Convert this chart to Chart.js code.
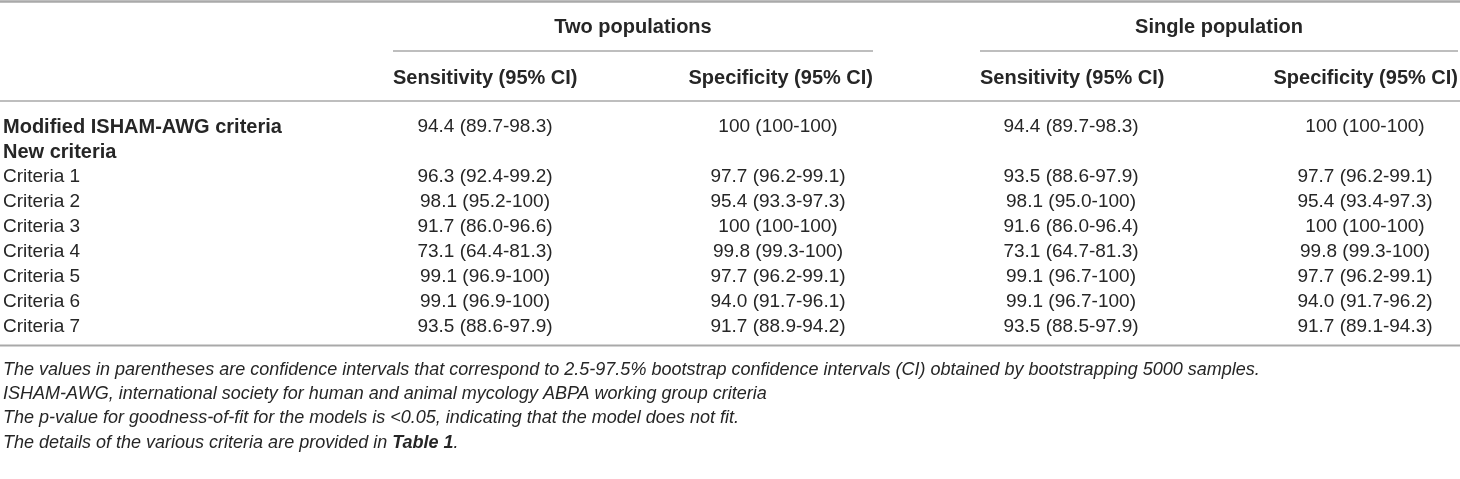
<!DOCTYPE html>
<html>
<head>
<meta charset="utf-8">
<script src="https://cdn.jsdelivr.net/npm/chart.js@4.4.1/dist/chart.umd.min.js"></script>
<style>
  html, body { margin: 0; padding: 0; background: #fff; }
  #wrap { width: 1460px; height: 479px; }
</style>
</head>
<body>
<div id="wrap"><canvas id="tableChart" width="1460" height="479"></canvas></div>
<script>
'use strict';

// TABLE CONTENT
const rowLabels = [
  'Modified ISHAM-AWG criteria',
  'New criteria',
  'Criteria 1',
  'Criteria 2',
  'Criteria 3',
  'Criteria 4',
  'Criteria 5',
  'Criteria 6',
  'Criteria 7',
];
const boldRows = ['Modified ISHAM-AWG criteria', 'New criteria'];

const groupHeaders = ['Two populations', 'Single population'];
const columnHeaders = [
  'Sensitivity (95% CI)',
  'Specificity (95% CI)',
  'Sensitivity (95% CI)',
  'Specificity (95% CI)',
];

const twoPopSensitivity = ['94.4 (89.7-98.3)', '', '96.3 (92.4-99.2)', '98.1 (95.2-100)', '91.7 (86.0-96.6)', '73.1 (64.4-81.3)', '99.1 (96.9-100)', '99.1 (96.9-100)', '93.5 (88.6-97.9)'];
const twoPopSpecificity = ['100 (100-100)', '', '97.7 (96.2-99.1)', '95.4 (93.3-97.3)', '100 (100-100)', '99.8 (99.3-100)', '97.7 (96.2-99.1)', '94.0 (91.7-96.1)', '91.7 (88.9-94.2)'];
const singlePopSensitivity = ['94.4 (89.7-98.3)', '', '93.5 (88.6-97.9)', '98.1 (95.0-100)', '91.6 (86.0-96.4)', '73.1 (64.7-81.3)', '99.1 (96.7-100)', '99.1 (96.7-100)', '93.5 (88.5-97.9)'];
const singlePopSpecificity = ['100 (100-100)', '', '97.7 (96.2-99.1)', '95.4 (93.4-97.3)', '100 (100-100)', '99.8 (99.3-100)', '97.7 (96.2-99.1)', '94.0 (91.7-96.2)', '91.7 (89.1-94.3)'];

const footnotes = [
  [['The values in parentheses are confidence intervals that correspond to 2.5-97.5% bootstrap confidence intervals (CI) obtained by bootstrapping 5000 samples.', false]],
  [['ISHAM-AWG, international society for human and animal mycology ABPA working group criteria', false]],
  [['The p-value for goodness-of-fit for the models is <0.05, indicating that the model does not fit.', false]],
  [['The details of the various criteria are provided in ', false], ['Table 1', true], ['.', false]],
];

// LAYOUT (table units = px along the hidden linear x axis)
const tableWidth = 1460;
const labelX = 3;
const valueCenters = [485, 778, 1071, 1365];
const groupSpans = [[393, 873], [980, 1458]];
const font = '"Liberation Sans", Arial, Helvetica, sans-serif';
const bodySize = 19;
const headSize = 20;
const noteSize = 18;
const textColor = '#262626';
const ruleColor = '#a9a9a9';

const columns = [
  { text: rowLabels, x: labelX, align: 'left' },
  { text: twoPopSensitivity, x: valueCenters[0], align: 'center' },
  { text: twoPopSpecificity, x: valueCenters[1], align: 'center' },
  { text: singlePopSensitivity, x: valueCenters[2], align: 'center' },
  { text: singlePopSpecificity, x: valueCenters[3], align: 'center' },
];

const datasets = columns.map((col) => ({
  data: rowLabels.map((r) => ({ x: col.x, y: r })),
  cellText: col.text,
  textAlign: col.align,
  pointRadius: 0,
  pointHoverRadius: 0,
}));

function rule(ctx, x1, x2, y, w) {
  ctx.save();
  ctx.strokeStyle = ruleColor;
  ctx.lineWidth = w;
  ctx.beginPath();
  ctx.moveTo(x1, y);
  ctx.lineTo(x2, y);
  ctx.stroke();
  ctx.restore();
}

const tablePlugin = {
  id: 'tableText',
  afterDatasetsDraw(chart) {
    const ctx = chart.ctx;
    const xs = chart.scales.x;
    const area = chart.chartArea;
    const left = xs.getPixelForValue(0);
    const right = xs.getPixelForValue(tableWidth);

    ctx.save();
    ctx.fillStyle = textColor;
    ctx.textBaseline = 'middle';

    // body cells
    chart.data.datasets.forEach((ds, i) => {
      const meta = chart.getDatasetMeta(i);
      meta.data.forEach((pt, j) => {
        const txt = ds.cellText[j];
        if (!txt) return;
        const bold = i === 0 && boldRows.includes(txt);
        ctx.font = bold ? 'bold ' + headSize + 'px ' + font : bodySize + 'px ' + font;
        ctx.textAlign = ds.textAlign;
        ctx.fillText(txt, pt.x, pt.y + 1);
      });
    });

    // header
    ctx.font = 'bold ' + headSize + 'px ' + font;
    ctx.textAlign = 'center';
    groupHeaders.forEach((h, i) => {
      const mid = (groupSpans[i][0] + groupSpans[i][1]) / 2;
      ctx.fillText(h, xs.getPixelForValue(mid), area.top - 86);
    });
    columnHeaders.forEach((h, i) => {
      const span = groupSpans[Math.floor(i / 2)];
      const first = i % 2 === 0;
      ctx.textAlign = first ? 'left' : 'right';
      ctx.fillText(h, xs.getPixelForValue(first ? span[0] : span[1]), area.top - 35);
    });

    // footnotes
    ctx.textAlign = 'left';
    footnotes.forEach((parts, i) => {
      let x = xs.getPixelForValue(labelX);
      const y = area.bottom + 31 + i * 24.4;
      parts.forEach(([txt, bold]) => {
        ctx.font = 'italic ' + (bold ? 'bold ' : '') + noteSize + 'px ' + font;
        ctx.fillText(txt, x, y);
        x += ctx.measureText(txt).width;
      });
    });
    ctx.restore();

    // rules
    rule(ctx, left, right, 1.5, 2.5);
    groupSpans.forEach(([a, b]) => rule(ctx, xs.getPixelForValue(a), xs.getPixelForValue(b), area.top - 62.5, 1.5));
    rule(ctx, left, right, area.top - 12.5, 1.5);
    rule(ctx, left, right, area.bottom + 7, 2);
  },
};

const tableChart = new Chart(document.getElementById('tableChart'), {
  type: 'scatter',
  data: { datasets: datasets },
  options: {
    responsive: false,
    animation: false,
    events: [],
    devicePixelRatio: 1,
    layout: { padding: { top: 113.5, bottom: 140.5, left: 0, right: 0 } },
    plugins: { legend: { display: false }, tooltip: { enabled: false } },
    scales: {
      x: { type: 'linear', min: 0, max: tableWidth, display: false },
      y: { type: 'category', labels: rowLabels, offset: true, display: false },
    },
  },
  plugins: [tablePlugin],
});
</script>
</body>
</html>
